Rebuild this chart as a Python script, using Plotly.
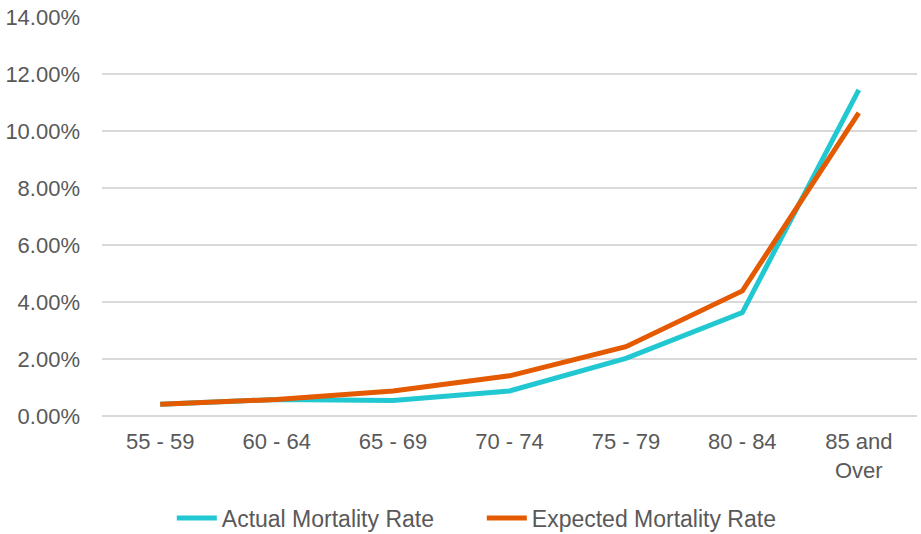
import plotly.graph_objects as go

categories = ["55 - 59", "60 - 64", "65 - 69", "70 - 74", "75 - 79", "80 - 84", "85 and<br>Over"]
actual_rate = [0.41, 0.58, 0.54, 0.88, 2.02, 3.63, 11.44]
expected_rate = [0.41, 0.58, 0.88, 1.41, 2.43, 4.39, 10.64]
y_ticks = [0, 2, 4, 6, 8, 10, 12, 14]
y_tick_labels = [f"{v:.2f}%" for v in y_ticks]

fig = go.Figure()
fig.add_trace(go.Scatter(x=categories, y=actual_rate, mode="lines",
                         name="Actual Mortality Rate",
                         line=dict(color="#22C8D1", width=5)))
fig.add_trace(go.Scatter(x=categories, y=expected_rate, mode="lines",
                         name="Expected Mortality Rate",
                         line=dict(color="#E35A00", width=5)))

font_family = "Liberation Sans, Arial, sans-serif"
fig.update_layout(
    width=921, height=534,
    margin=dict(l=102, r=4, t=17, b=118, autoexpand=False),
    paper_bgcolor="white", plot_bgcolor="white",
    font=dict(family=font_family, color="#595959", size=22),
    showlegend=True,
    legend=dict(orientation="h", x=0.466, xanchor="center",
                yref="container", y=0.03, yanchor="middle",
                font=dict(size=23, color="#595959"), entrywidth=255,
                itemwidth=40, traceorder="normal"),
    xaxis=dict(range=[-0.5, 6.5], showgrid=False, showline=False, zeroline=False, ticks="",
               ticklabelstandoff=10, automargin=False,
               tickfont=dict(size=22, color="#595959")),
    yaxis=dict(range=[0, 14], tickvals=y_ticks, ticktext=y_tick_labels,
               showgrid=True, gridcolor="#D9D9D9", gridwidth=1.5,
               zeroline=True, zerolinecolor="#D9D9D9", zerolinewidth=1.5,
               showline=False, ticks="", ticklabelstandoff=21, automargin=False,
               tickfont=dict(size=22, color="#595959")),
)

fig.write_html("out.html", config={"responsive": False, "displayModeBar": False},
               post_script="document.body.style.margin='0px';document.body.style.padding='0px';")
